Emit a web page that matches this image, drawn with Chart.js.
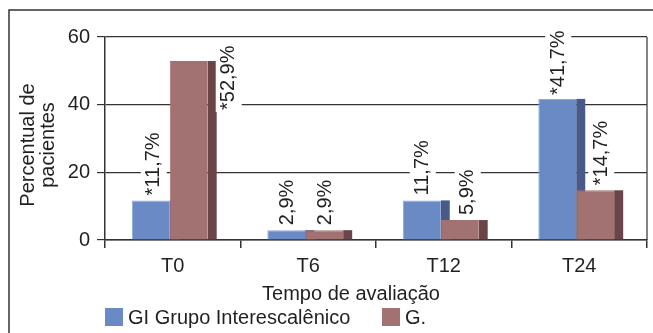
<!DOCTYPE html>
<html>
<head>
<meta charset="utf-8">
<script src="https://cdn.jsdelivr.net/npm/chart.js@4"></script>
<style>
  html, body { margin: 0; padding: 0; background: #fff; }
  canvas { display: block; }
</style>
</head>
<body>
<canvas id="chart" width="653" height="333"></canvas>
<script>
// Percentage of patients per evaluation time, two groups
const categories = ['T0', 'T6', 'T12', 'T24'];
const giValues = [11.7, 2.9, 11.7, 41.7];
const gValues = [52.9, 2.9, 5.9, 14.7];
const giMarked = [true, false, false, true];   // values flagged with an asterisk
const gMarked = [true, false, false, true];
const yTicks = [0, 20, 40, 60];
const seriesNames = ['GI Grupo Interescalênico', 'G.'];
const xTitle = 'Tempo de avaliação';
const yTitle = ['Percentual de', 'pacientes'];

const FONT = '"Liberation Sans", Arial, sans-serif';
const INK = '#231f20';
const LINE = '#333333';
const FRONT = ['#6a8ac6', '#a27272'];
const SIDE = ['#475a8a', '#6a4448'];
const EDGE = ['#8eaadc', '#a27272'];
const DEPTH = 9;   // width of the shaded side face of each column
const SHIFT = -3;  // columns sit a little left so front + side stay centred

// value label placement: dx from the front face centre, dy from the column top
const labelPlacement = [
  [{ dx: 3, dy: -5 }, { dx: 1, dy: -5 }, { dx: 1, dy: -5 }, { dx: 1, dy: -4 }],
  [{ dx: 40, dy: 49 }, { dx: 1, dy: -5 }, { dx: 8, dy: -5 }, { dx: 6, dy: -5 }]
];

const seriesValues = [giValues, gValues];
const seriesMarked = [giMarked, gMarked];

function fmt(v, marked) {
  return (marked ? '*' : '') + v.toFixed(1).replace('.', ',') + '%';
}

const decor = {
  id: 'decor',
  beforeDraw(chart) {
    const ctx = chart.ctx;
    ctx.save();
    ctx.fillStyle = '#fff';
    ctx.fillRect(0, 0, chart.width, chart.height);
    ctx.strokeStyle = LINE;
    ctx.lineWidth = 1.5;
    ctx.beginPath();
    ctx.moveTo(9, chart.height);
    ctx.lineTo(9, 10);
    ctx.lineTo(chart.width, 10);
    ctx.stroke();
    ctx.restore();
  },
  beforeDatasetsDraw(chart) {
    const ctx = chart.ctx;
    ctx.save();
    ctx.translate(SHIFT, 0);
    chart.data.datasets.forEach((ds, i) => {
      chart.getDatasetMeta(i).data.forEach(bar => {
        const right = bar.x + bar.width / 2;
        ctx.fillStyle = SIDE[i];
        ctx.fillRect(right, bar.y, DEPTH, bar.base - bar.y);
      });
    });
  },
  afterDatasetsDraw(chart) {
    const ctx = chart.ctx;
    ctx.font = '20px ' + FONT;
    ctx.textBaseline = 'middle';
    ctx.textAlign = 'left';
    chart.data.datasets.forEach((ds, i) => {
      chart.getDatasetMeta(i).data.forEach((bar, j) => {
        const p = labelPlacement[i][j];
        const text = fmt(seriesValues[i][j], seriesMarked[i][j]);
        const w = ctx.measureText(text).width;
        ctx.save();
        ctx.translate(bar.x + p.dx, bar.y + p.dy);
        ctx.rotate(-Math.PI / 2);
        ctx.fillStyle = '#fff';
        ctx.fillRect(-2, -13, w + 4, 26);
        ctx.fillStyle = INK;
        ctx.fillText(text, 0, 0);
        ctx.restore();
      });
    });
    ctx.restore();

    // right edge of the plot frame
    const a = chart.chartArea;
    ctx.save();
    ctx.strokeStyle = LINE;
    ctx.lineWidth = 1.2;
    ctx.beginPath();
    ctx.moveTo(a.right, a.top);
    ctx.lineTo(a.right, a.bottom);
    ctx.stroke();
    ctx.restore();
  },
  afterDraw(chart) {
    const ctx = chart.ctx;
    ctx.save();
    ctx.font = '20px ' + FONT;
    ctx.fillStyle = INK;
    ctx.textBaseline = 'middle';

    // axis titles
    ctx.textAlign = 'center';
    ctx.fillText(xTitle, 351, 294);
    ctx.save();
    ctx.translate(28, 145);
    ctx.rotate(-Math.PI / 2);
    yTitle.forEach((line, k) => ctx.fillText(line, 0, k * 20));
    ctx.restore();

    // legend
    ctx.textAlign = 'left';
    const legendX = [105, 382];
    seriesNames.forEach((name, i) => {
      ctx.fillStyle = FRONT[i];
      ctx.fillRect(legendX[i], 308, 18, 18);
      ctx.fillStyle = INK;
      ctx.fillText(name, legendX[i] + 23, 318);
    });
    ctx.restore();
  }
};

new Chart(document.getElementById('chart'), {
  type: 'bar',
  data: {
    labels: categories,
    datasets: seriesNames.map((name, i) => ({
      label: name,
      data: seriesValues[i],
      backgroundColor: FRONT[i],
      borderColor: EDGE[i],
      borderWidth: { top: 1, left: 1, right: 0, bottom: 0 },
      borderSkipped: false,
      categoryPercentage: 0.56,
      barPercentage: 1
    }))
  },
  options: {
    responsive: false,
    animation: false,
    devicePixelRatio: 1,
    layout: { padding: { left: 0, top: 37, right: 6, bottom: 0 } },
    plugins: {
      legend: { display: false },
      tooltip: { enabled: false },
      title: { display: false }
    },
    scales: {
      x: {
        afterFit(scale) { scale.height = 93; },
        grid: {
          offset: true,
          drawOnChartArea: false,
          drawTicks: true,
          tickLength: 8,
          color: LINE,
          lineWidth: 1.5
        },
        border: { display: true, color: LINE, width: 1.5 },
        ticks: {
          color: INK,
          padding: 6,
          font: { family: FONT, size: 20 }
        }
      },
      y: {
        min: 0,
        max: 60,
        afterFit(scale) { scale.width = 105; },
        afterBuildTicks(scale) { scale.ticks = yTicks.map(v => ({ value: v })); },
        grid: {
          drawTicks: true,
          tickLength: 8,
          color: LINE,
          lineWidth: 1.2
        },
        border: { display: true, color: LINE, width: 1.5 },
        ticks: {
          color: INK,
          padding: 7,
          font: { family: FONT, size: 20 }
        }
      }
    }
  },
  plugins: [decor]
});
</script>
</body>
</html>
